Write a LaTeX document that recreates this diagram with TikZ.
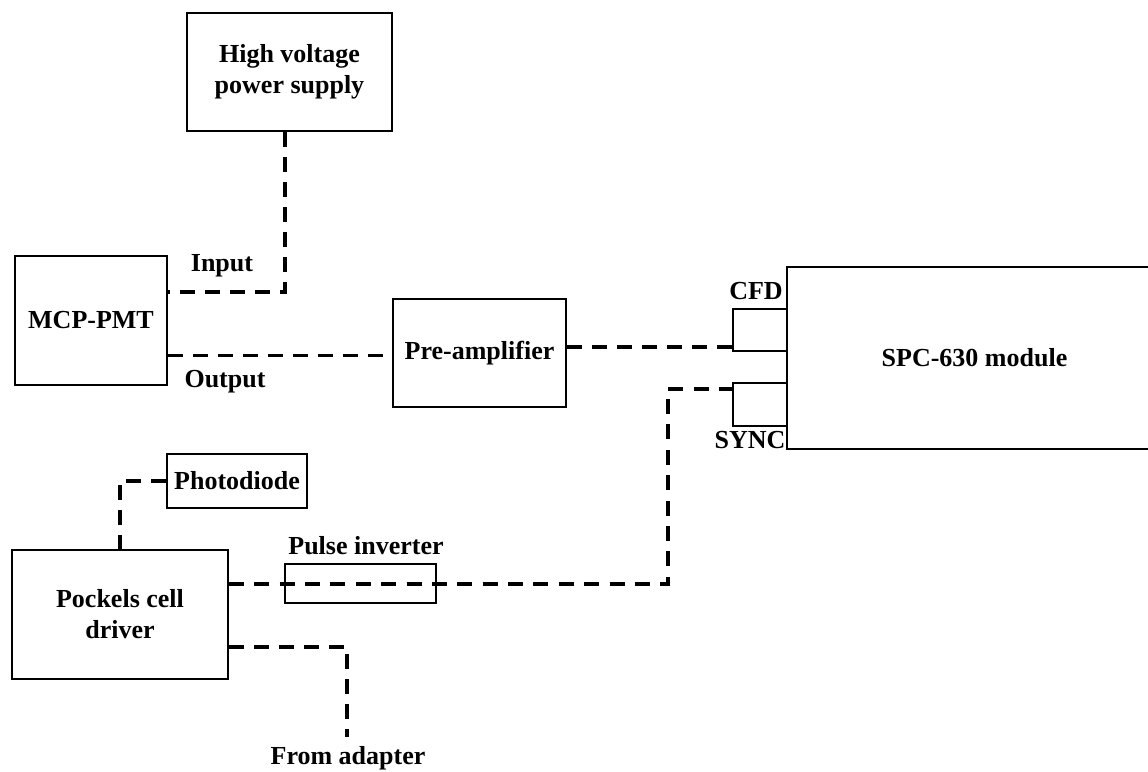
\documentclass[tikz,border=0pt]{standalone}
\usepackage{fontspec}
\setmainfont{Liberation Serif}
\begin{document}
\begin{tikzpicture}[x=1pt,y=-1pt,
  box/.style={draw=black,line width=2pt,inner sep=0pt,align=center,font=\fontsize{26}{31}\selectfont\bfseries},
  lbl/.style={inner sep=0pt,font=\fontsize{26}{31}\selectfont\bfseries},
  dline/.style={line width=3.3pt,dash pattern=on 15pt off 10pt}]
\useasboundingbox (0,0) rectangle (1148,771);
\clip (0,0) rectangle (1148,771);
% boxes
\node[box,minimum width=205pt,minimum height=118pt] (hv) at (289.5,72) {High voltage\\power supply};
\node[box,minimum width=152pt,minimum height=129pt] (mcp) at (91,320.5) {MCP-PMT};
\node[box,minimum width=173pt,minimum height=108pt] (pre) at (479.5,353) {Pre-amplifier};
\node[box,minimum width=375pt,minimum height=182pt] (spc) at (974.5,358) {SPC-630 module};
\node[box,minimum width=54pt,minimum height=42pt] (cfd) at (760,330) {};
\node[box,minimum width=54pt,minimum height=43pt] (sync) at (760,404.5) {};
\node[box,minimum width=140pt,minimum height=54pt] (pd) at (237,481) {Photodiode};
\node[box,minimum width=216pt,minimum height=129pt] (pc) at (120,614.5) {Pockels cell\\driver};
\node[box,minimum width=151pt,minimum height=39pt] (pi) at (360.5,583.5) {};
% labels
\node[lbl] (linput) at (222,266) {Input};
\node[lbl] (loutput) at (225,382) {Output};
\node[lbl] (lcfd) at (756,291) {CFD};
\node[lbl] (lsync) at (750,440) {SYNC};
\node[lbl] (lpi) at (366,546) {Pulse inverter};
\node[lbl] (ladp) at (348,758) {From adapter};
% coordinates
\coordinate (bend) at (668,584);
\coordinate (adp) at (347,737);
% connectors
\draw[dline] ([xshift=-4.5pt]hv.south) |- ([yshift=28.5pt]mcp.east);
\draw[dline] ([yshift=-35pt]mcp.east) -- ([yshift=-35pt]mcp.east -| pre.west);
\draw[dline] ([yshift=6pt]pre.east) -- ([yshift=6pt]pre.east -| cfd.west);
\draw[dline,dash pattern=on 15pt off 10.37pt] ([yshift=30.5pt]pc.east) -- (bend) |- ([yshift=15.5pt]sync.west);
\draw[dline] (pd.west) -| (pc.north);
\draw[dline] ([yshift=-32.5pt]pc.east) -| (adp);
\end{tikzpicture}
\end{document}
